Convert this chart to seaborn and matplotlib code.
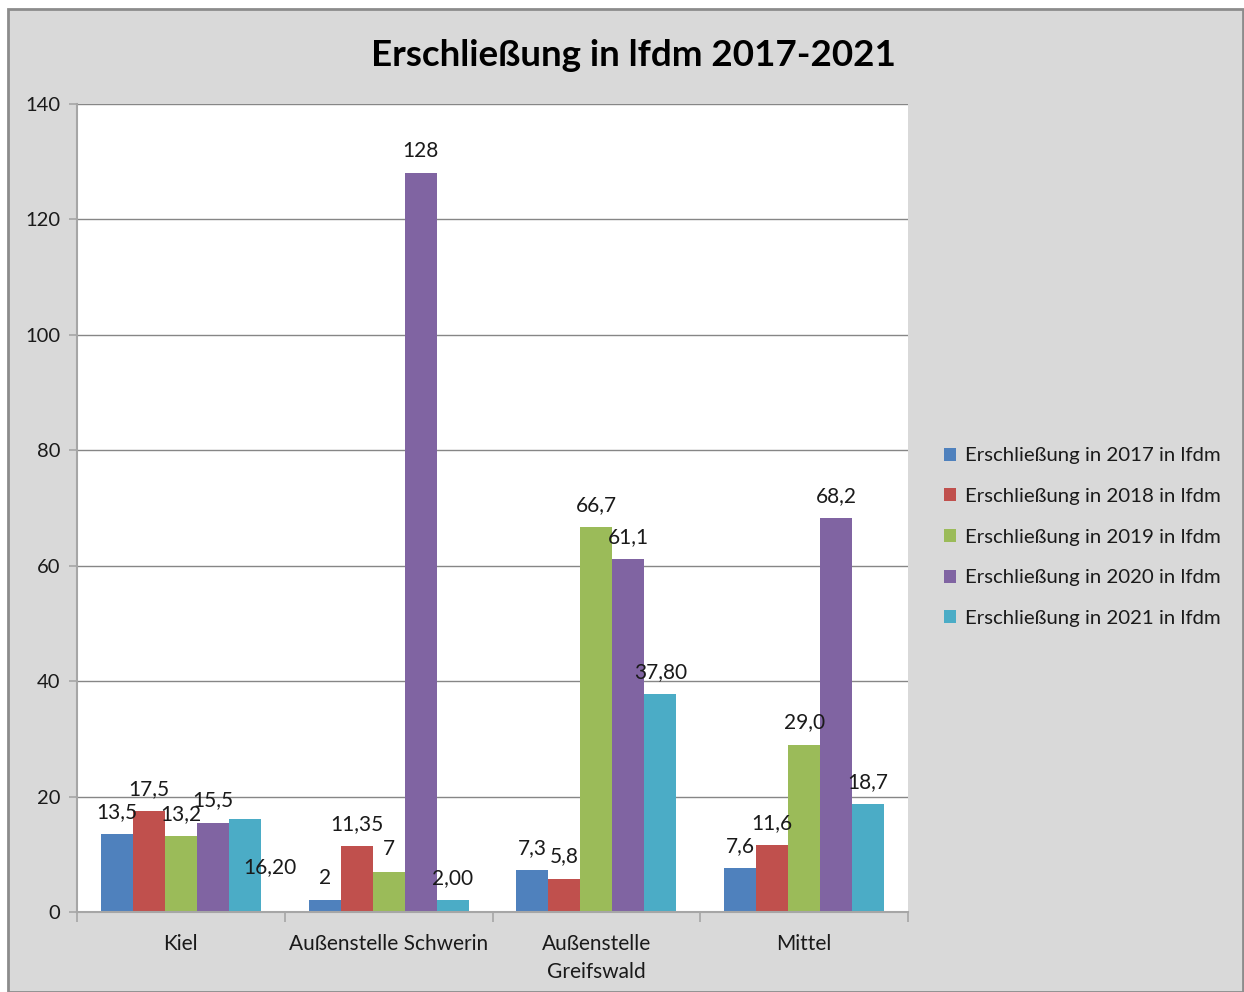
import matplotlib
matplotlib.use("Agg")
import matplotlib.pyplot as plt
from matplotlib.patches import Rectangle
import seaborn as sns
import pandas as pd
import numpy as np

# Standorte und Jahreswerte (lfdm)
categories = ["Kiel", "Außenstelle Schwerin", "Außenstelle\nGreifswald", "Mittel"]
series_names = [
    "Erschließung in 2017 in lfdm",
    "Erschließung in 2018 in lfdm",
    "Erschließung in 2019 in lfdm",
    "Erschließung in 2020 in lfdm",
    "Erschließung in 2021 in lfdm",
]
values_2017 = [13.5, 2, 7.3, 7.6]
values_2018 = [17.5, 11.35, 5.8, 11.6]
values_2019 = [13.2, 7, 66.7, 29.0]
values_2020 = [15.5, 128, 61.1, 68.2]
values_2021 = [16.20, 2.00, 37.80, 18.7]
labels_2017 = ["13,5", "2", "7,3", "7,6"]
labels_2018 = ["17,5", "11,35", "5,8", "11,6"]
labels_2019 = ["13,2", "7", "66,7", "29,0"]
labels_2020 = ["15,5", "128", "61,1", "68,2"]
labels_2021 = ["16,20", "2,00", "37,80", "18,7"]
y_ticks = [0, 20, 40, 60, 80, 100, 120, 140]
title = "Erschließung in lfdm 2017-2021"

colors = ["#4F81BD", "#C0504D", "#9BBB59", "#8064A2", "#4BACC6"]

all_values = [values_2017, values_2018, values_2019, values_2020, values_2021]
all_labels = [labels_2017, labels_2018, labels_2019, labels_2020, labels_2021]

rows = []
for name, vals in zip(series_names, all_values):
    for cat, v in zip(categories, vals):
        rows.append({"Standort": cat, "Serie": name, "Wert": v})
df = pd.DataFrame(rows)

sns.set_theme(style="white")
plt.rcParams["font.family"] = ["Lato", "DejaVu Sans"]

fig = plt.figure(figsize=(12.44, 9.92), dpi=100, facecolor="white")
# grey chart area with a thin frame
fig.patches.append(Rectangle((8 / 1244, 0), 1 - 9 / 1244, 1 - 9 / 992,
                             transform=fig.transFigure, facecolor="#D9D9D9",
                             edgecolor="#8C8C8C", linewidth=2, zorder=-10))

ax = fig.add_axes([77 / 1244, 80 / 992, 831 / 1244, 808 / 992])
ax.set_facecolor("white")

sns.barplot(data=df, x="Standort", y="Wert", hue="Serie", hue_order=series_names,
            order=categories, palette=colors, width=0.77, saturation=1,
            edgecolor="none", linewidth=0, ax=ax, legend=True)

ax.set_ylim(0, 140)
ax.set_xlim(-0.5, len(categories) - 0.5)
ax.set_yticks(y_ticks)
ax.set_yticklabels([str(t) for t in y_ticks], fontsize=14.5, color="#1a1a1a")
ax.set_xlabel("")
ax.set_ylabel("")

# horizontal gridlines behind the bars
for t in y_ticks[1:]:
    ax.axhline(t, color="#868686", linewidth=1, zorder=0)
ax.set_axisbelow(True)

for s in ["top", "right"]:
    ax.spines[s].set_visible(False)
for s in ["left", "bottom"]:
    ax.spines[s].set_color("#A6A6A6")
    ax.spines[s].set_linewidth(1.5)

# x ticks sit between categories, labels centred below each group
ax.set_xticks(np.arange(-0.5, len(categories), 1.0))
ax.set_xticklabels([])
ax.set_xticks(np.arange(len(categories)), minor=True)
ax.set_xticklabels(categories, minor=True, fontsize=15, color="#1a1a1a",
                   linespacing=1.5)
ax.tick_params(axis="x", which="major", length=7, width=1.2, color="#A6A6A6",
               direction="out", bottom=True)
ax.tick_params(axis="x", which="minor", length=0, pad=15.5)
ax.tick_params(axis="y", length=6, width=1.2, color="#A6A6A6", direction="out",
               left=True, pad=6)

# value labels above the bars
offset_pts = {(4, 0): (18, -35)}
for si, (container, labs) in enumerate(zip(ax.containers, all_labels)):
    for ci, (bar, lab) in enumerate(zip(container, labs)):
        x = bar.get_x() + bar.get_width() / 2
        y = bar.get_height()
        dx, dy = offset_pts.get((si, ci), (0, 16))
        ax.annotate(lab, (x, y), xytext=(dx, dy), textcoords="offset points",
                    ha="center", va="center", fontsize=15, color="#1a1a1a")

leg = ax.legend(loc="center left", bbox_to_anchor=(1.033, 0.464), frameon=False,
                fontsize=14.7, handlelength=0.6, handleheight=0.6,
                handletextpad=0.45, labelspacing=1.16, borderaxespad=0)
for t in leg.get_texts():
    t.set_color("#1a1a1a")

fig.text(633 / 1244, 1 - 55 / 992, title, ha="center", va="center",
         fontsize=26.5, fontweight="bold", color="#000000")

fig.savefig("out.png", dpi=100, facecolor=fig.get_facecolor())
